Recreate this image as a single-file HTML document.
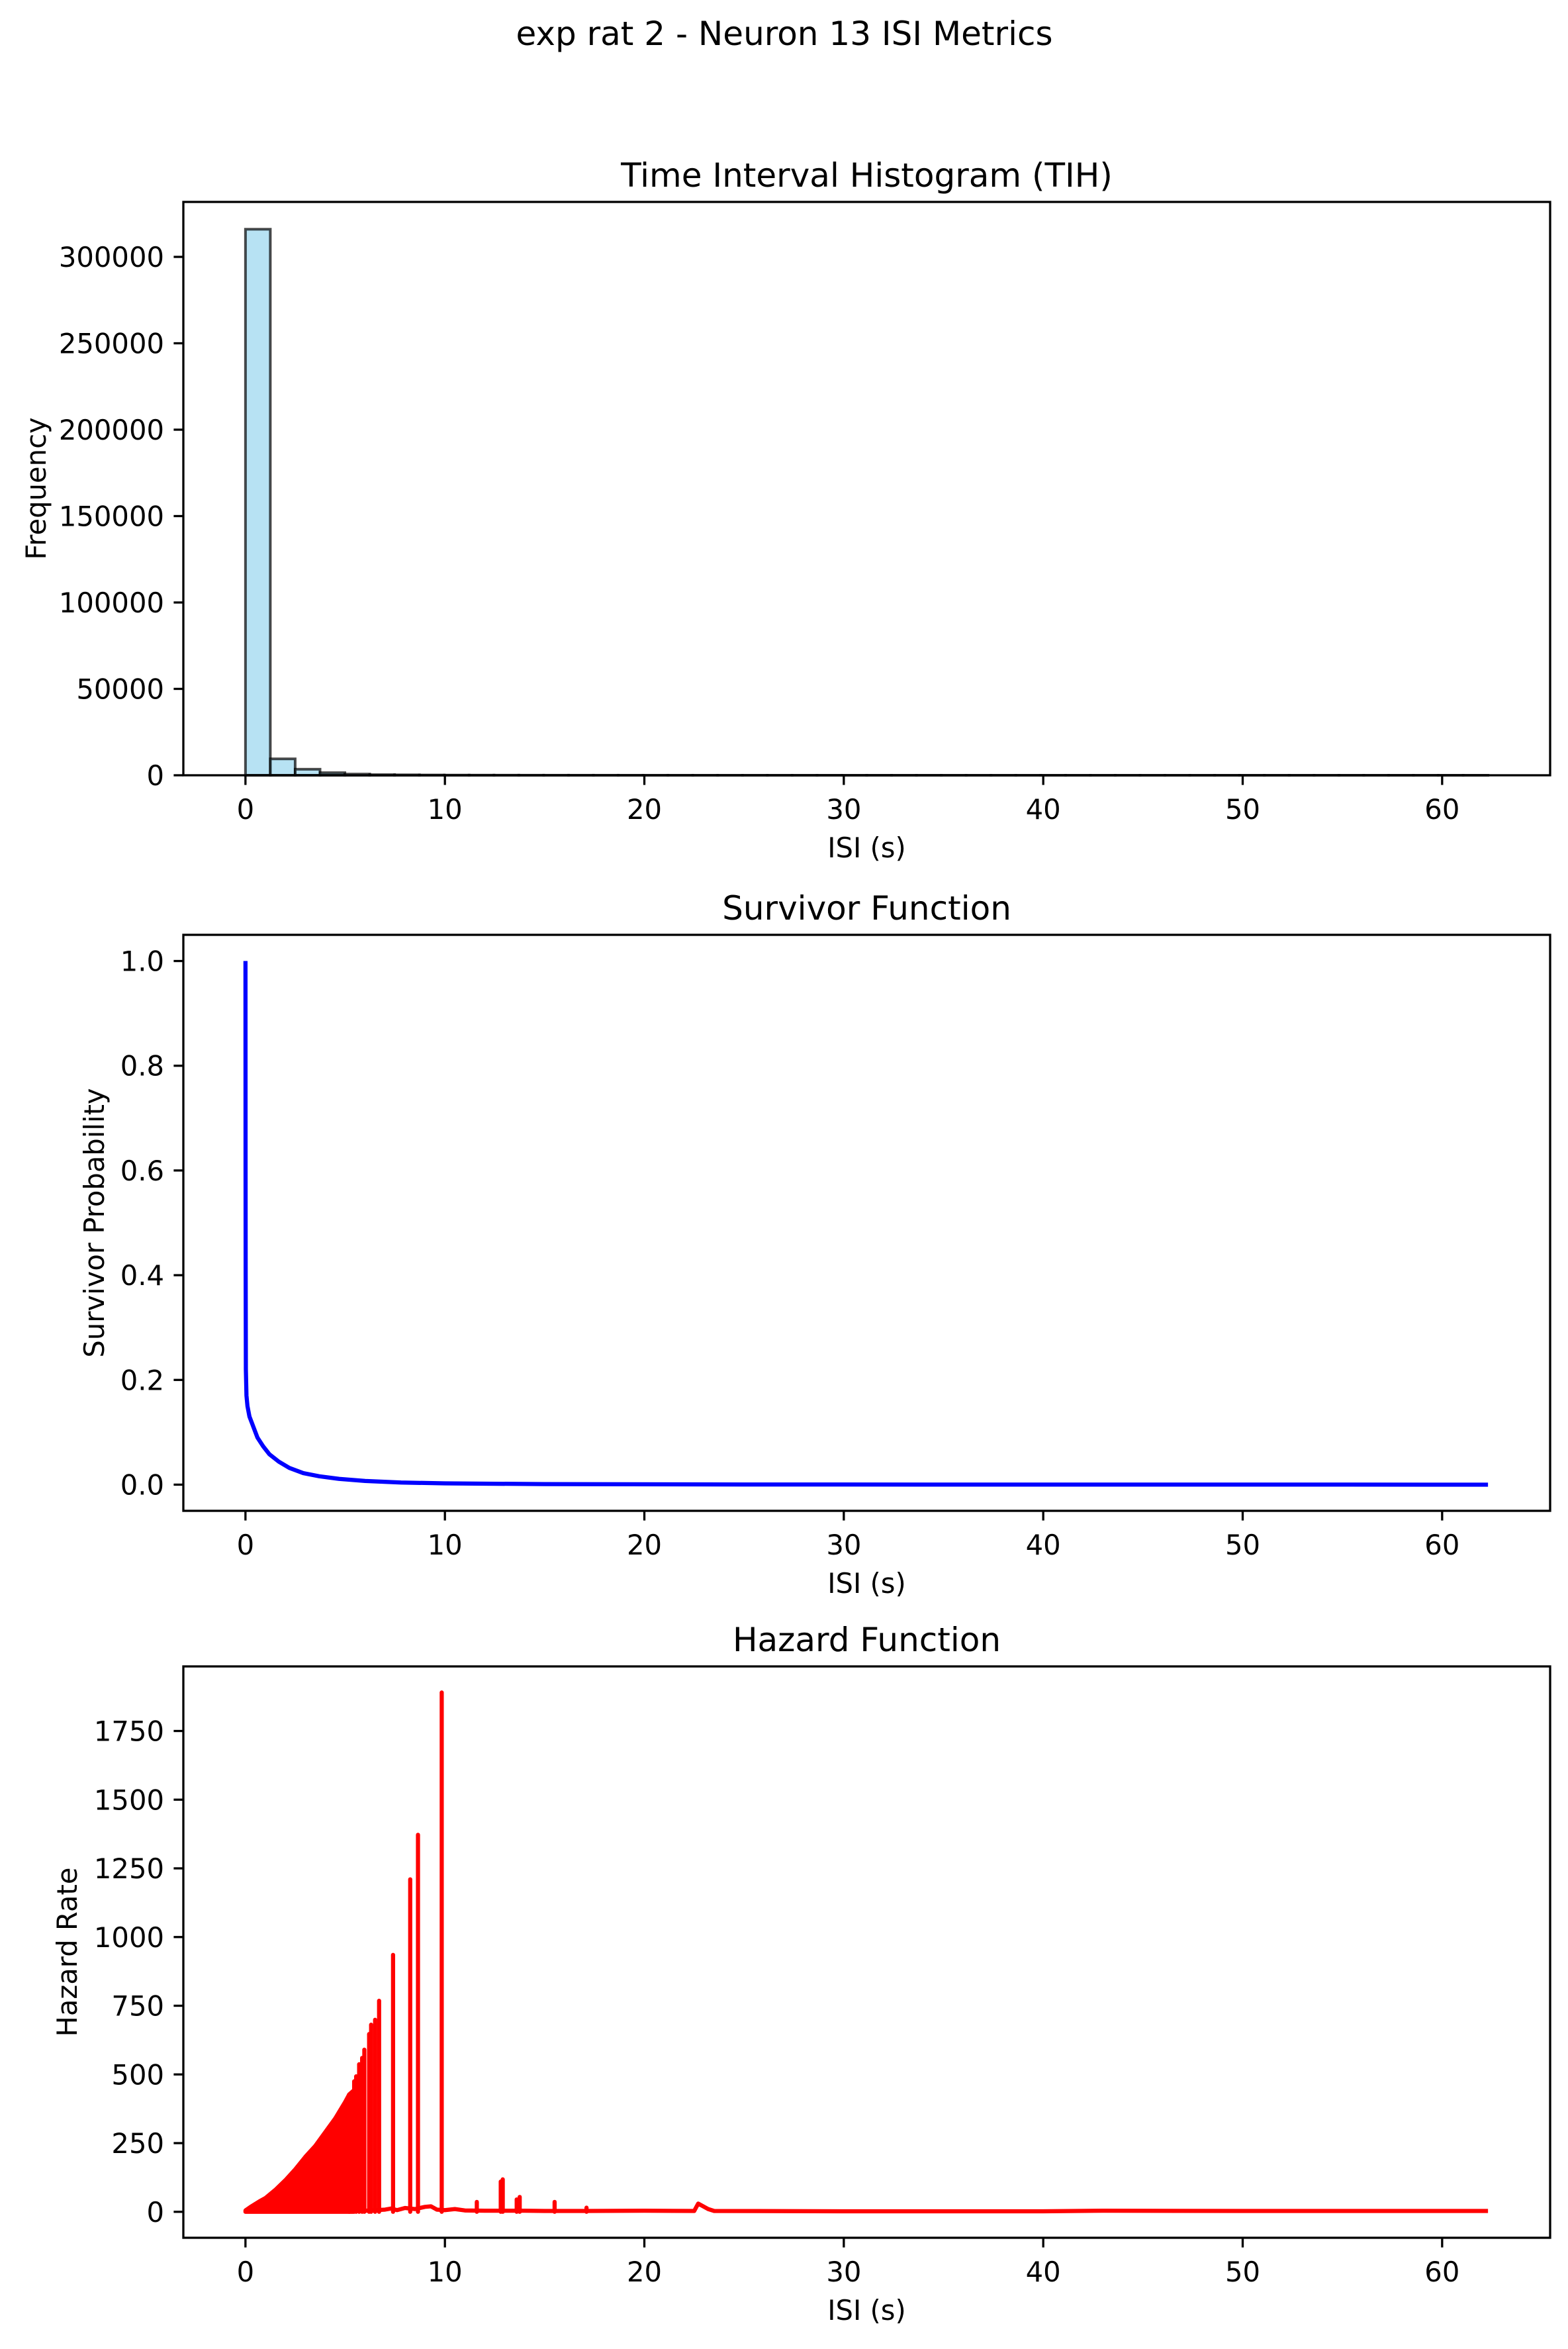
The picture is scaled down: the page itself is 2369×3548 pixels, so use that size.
<!DOCTYPE html>
<html><head><meta charset="utf-8"><style>
body{margin:0;background:#fff}
svg text{font-family:"DejaVu Sans","Liberation Sans",sans-serif;fill:#000}
</style></head><body>
<svg id="fig" width="2369" height="3543" xmlns="http://www.w3.org/2000/svg">
<rect width="2369" height="3543" fill="#fff"/>
<text x="1185" y="68" font-size="50" text-anchor="middle">exp rat 2 - Neuron 13 ISI Metrics</text>
</svg>
<script>
// ---------- data ----------
const histBinCount = 50;
const histMax = 62.3;
const histCounts = [316000,9500,3500,1500,700,350,250,150,100,80,60,40,30,25,20,15,12,10,8,6,5,5,4,3,3,2,2,2,1,1,1,1,1,1,1,1,1,1,1,1,1,1,1,1,1,1,1,1,1,1];
const survX = [0,0.005,0.01,0.02,0.05,0.1,0.2,0.33,0.6,0.89,1.2,1.67,2.2,2.9,3.7,4.7,6,7.8,10,15,25,40,62.3];
const survY = [1,0.6,0.4,0.22,0.17,0.15,0.13,0.117,0.09,0.073,0.058,0.044,0.032,0.022,0.016,0.011,0.007,0.004,0.0025,0.001,0.0003,0.0001,0];
const hazEnvX = [0,0.3,0.7,1,1.5,2,2.5,3,3.5,4,4.5,5,5.2,5.4];
const hazEnvY = [5,20,38,50,80,115,155,200,240,290,340,400,427,440];
const hazSpikeX = [5.2,5.45,5.55,5.7,5.85,5.96,6.2,6.3,6.5,6.7,7.4,8.26,8.65,9.84,11.6,12.8,12.9,13.6,13.75,15.5,17.1];
const hazSpikeY = [427,475,493,537,560,590,647,681,699,768,935,1210,1372,1890,36,110,118,45,54,36,15];
const hazBaseX = [5.4,6,7,7.3,7.6,8,8.5,9,9.3,9.6,10,10.5,11,12,13,14,15,17,20,22.5,22.7,23.2,23.5,30,40,43,50,62.3];
const hazBaseY = [5,4,8,12,6,14,10,18,20,8,6,10,5,4,4,4,3,3,4,3,30,10,3,2,2,4,3,3];
const xTicks = [0,10,20,30,40,50,60];
const histYTicks = [0,50000,100000,150000,200000,250000,300000];
const survYTicks = [0,0.2,0.4,0.6,0.8,1.0];
const hazYTicks = [0,250,500,750,1000,1250,1500,1750];

// ---------- helpers ----------
const NS="http://www.w3.org/2000/svg";
const fig=document.getElementById('fig');
function mk(tag,attrs,parent){const e=document.createElementNS(NS,tag);for(const k in attrs)e.setAttribute(k,attrs[k]);(parent||fig).appendChild(e);return e;}
const XMIN=-3.115,XMAX=65.415;
const TF=41.7;
const R=2342;
function makeAxes(box,ymin,ymax,name){
  const g=mk('g',{});
  
  
  const sx=v=>box.l+(v-XMIN)/(XMAX-XMIN)*(box.r-box.l);
  const sy=v=>box.b-(v-ymin)/(ymax-ymin)*(box.b-box.t);
  return {g,sx,sy,box};
}
function finishAxes(ax,yTicks,yFmt,title,ylabel,ylabX,name){
  const {g,sx,sy,box}=ax;
  const frame=mk('rect',{x:box.l,y:box.t,width:box.r-box.l,height:box.b-box.t,fill:'none',stroke:'#000','stroke-width':3.3},g);
  
  
  xTicks.forEach(v=>{
    const x=sx(v);
    mk('line',{x1:x,x2:x,y1:box.b,y2:box.b+14.6,stroke:'#000','stroke-width':3.3},g);
    const t=mk('text',{x:x,y:box.b+66,'font-size':TF,'text-anchor':'middle'},g);
    t.textContent=String(v);
    
    
  });
  yTicks.forEach(v=>{
    const y=sy(v);
    mk('line',{x1:box.l-14.6,x2:box.l,y1:y,y2:y,stroke:'#000','stroke-width':3.3},g);
    const t=mk('text',{x:box.l-29,y:y+15,'font-size':TF,'text-anchor':'end'},g);
    t.textContent=yFmt(v);
    
    
  });
  const tt=mk('text',{x:(box.l+box.r)/2,y:box.t-23,'font-size':50,'text-anchor':'middle'},g);
  tt.textContent=title;
  
  
  const xl=mk('text',{x:(box.l+box.r)/2,y:box.b+124,'font-size':TF,'text-anchor':'middle'},g);
  xl.textContent='ISI (s)';
  
  
  const cy=(box.t+box.b)/2;
  const yl=mk('text',{x:ylabX,y:cy,'font-size':TF,'text-anchor':'middle',transform:`rotate(-90 ${ylabX} ${cy})`},g);
  yl.textContent=ylabel;
  
  
}

// ---------- histogram ----------
(function(){
  const ax=makeAxes({l:277,r:R,t:305,b:1171},0,331800,'histogram-panel');
  const w=histMax/histBinCount;
  histCounts.forEach((c,i)=>{
    const x0=ax.sx(i*w),x1=ax.sx((i+1)*w),y=ax.sy(c);
    const r=mk('rect',{x:x0,y:y,width:x1-x0,height:ax.box.b-y,fill:'#87ceeb','fill-opacity':0.6,stroke:'#000','stroke-opacity':0.7,'stroke-width':4},ax.g);
    
    
  });
  finishAxes(ax,histYTicks,v=>String(v),'Time Interval Histogram (TIH)','Frequency',69,'histogram');
})();

// ---------- survivor ----------
(function(){
  const ax=makeAxes({l:277,r:R,t:1412,b:2282},-0.05,1.05,'survivor-panel');
  const pts=survX.map((x,i)=>ax.sx(x)+','+ax.sy(survY[i])).join(' ');
  const p=mk('polyline',{points:pts,fill:'none',stroke:'#0000ff','stroke-width':6.25,'stroke-linejoin':'round'},ax.g);
  
  
  finishAxes(ax,survYTicks,v=>v.toFixed(1),'Survivor Function','Survivor Probability',157,'survivor');
})();

// ---------- hazard ----------
(function(){
  const ax=makeAxes({l:277,r:R,t:2517,b:3380},-94.5,1985,'hazard-panel');
  let pts=hazEnvX.map((x,i)=>ax.sx(x)+','+ax.sy(hazEnvY[i]));
  pts.push(ax.sx(hazEnvX[hazEnvX.length-1])+','+ax.sy(0));
  pts.push(ax.sx(hazEnvX[0])+','+ax.sy(0));
  const a=mk('polygon',{points:pts.join(' '),fill:'#ff0000',stroke:'#ff0000','stroke-width':6.25,'stroke-linejoin':'round'},ax.g);
  
  
  const b=mk('polyline',{points:hazBaseX.map((x,i)=>ax.sx(x)+','+ax.sy(hazBaseY[i])).join(' '),fill:'none',stroke:'#ff0000','stroke-width':6.25,'stroke-linejoin':'round'},ax.g);
  
  
  hazSpikeX.forEach((x,i)=>{
    const l=mk('line',{x1:ax.sx(x),x2:ax.sx(x),y1:ax.sy(0),y2:ax.sy(hazSpikeY[i]),stroke:'#ff0000','stroke-width':6.25,'stroke-linecap':'round'},ax.g);
    
    
  });
  finishAxes(ax,hazYTicks,v=>String(v),'Hazard Function','Hazard Rate',116,'hazard');
})();
</script>
</body></html>
